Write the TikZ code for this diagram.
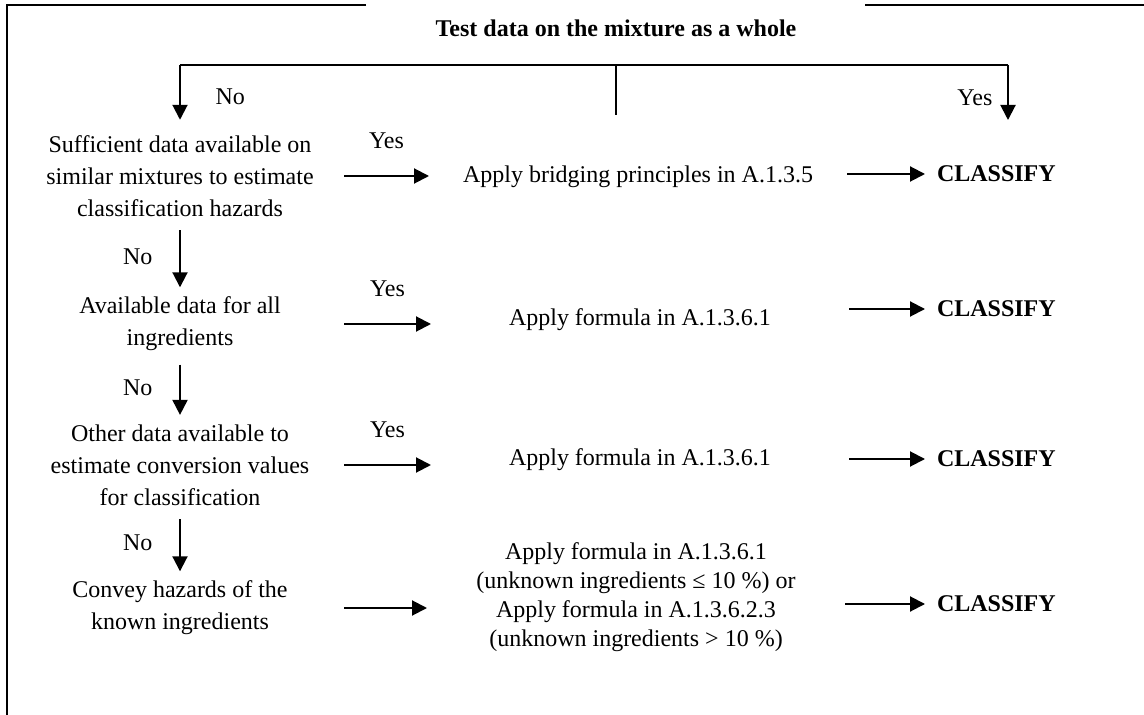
\documentclass[tikz,border=0pt]{standalone}
\usepackage{fontspec}
\setmainfont{Liberation Serif}
\usetikzlibrary{arrows.meta}
\usetikzlibrary{calc}

\begin{document}
\begin{tikzpicture}[x=0.5pt, y=-0.5pt, line width=1pt,
    ask/.style={align=flush center, text width=163pt, inner xsep=0pt, font=\fontsize{12}{16}\selectfont},
    act/.style={align=flush center, text width=208pt, inner xsep=0pt, font=\fontsize{12}{16}\selectfont},
    res/.style={anchor=west, inner xsep=5.5pt, font=\fontsize{12}{16}\selectfont\bfseries}]
    \tikzset{arr/.style={-{Triangle[length=7.5pt, width=7.5pt]}}}
    \tikzset{lbl/.style={font=\fontsize{12}{16}\selectfont}}
    \useasboundingbox (0,0) rectangle (1144,715);

    % frame
    \draw (366,5) -- (7,5) -- (7,715);
    \draw (865,5) -- (1144,5);
    \node[font=\fontsize{12}{16}\selectfont\bfseries] (title) at (616,28) {Test data on the mixture as a whole};

    % questions, actions, results
    \node[ask] (q1) at (180,176) {Sufficient data available on\\similar mixtures to estimate\\classification hazards};
    \node[ask] (q2) at (180,324) {Available data for all\\ingredients};
    \node[ask] (q3) at (180,465) {Other data available to\\estimate conversion values\\for classification};
    \node[ask] (q4) at (180,608) {Convey hazards of the\\known ingredients};

    \node[act] (a1) at (638,177) {Apply bridging principles in A.1.3.5};
    \node[act] (a2) at (640,320) {Apply formula in A.1.3.6.1};
    \node[act] (a3) at (640,460) {Apply formula in A.1.3.6.1};
    \node[act, font=\fontsize{12}{14.5}\selectfont] (a4) at (636,597) {Apply formula in A.1.3.6.1\\(unknown ingredients ≤ 10 \%) or\\Apply formula in A.1.3.6.2.3\\(unknown ingredients > 10 \%)};

    \node[res] (c1) at (925,174) {CLASSIFY};
    \node[res] (c2) at (925,309) {CLASSIFY};
    \node[res] (c3) at (925,459) {CLASSIFY};
    \node[res] (c4) at (925,604) {CLASSIFY};

    % branch from the top
    \coordinate (barM) at (616,65);
    \coordinate (barR) at (1008,65);
    \coordinate (stem) at (616,115);
    \coordinate (yesEnd) at (1008,120);
    \draw (q1.north |- barM) -- (barR);
    \draw (barM) -- (stem);
    \draw[arr, shorten >=4pt] (q1.north |- barM) -- (q1.north) node[lbl, midway, right=14pt] {No};
    \draw[arr] (barR) -- (yesEnd) node[lbl, pos=0.6, left=4pt] {Yes};

    \foreach \i in {1,...,4} {
        \draw[arr] (q\i.east) -- (q\i.east -| a\i.west);
        \draw[arr] (c\i.west -| a\i.east) -- (c\i.west);
    }
    \foreach \i/\j in {1/2,2/3,3/4} {
        \draw[arr, shorten <=3pt, shorten >=1pt] (q\i.south) -- (q\j.north) node[lbl, midway, left=10pt] {No};
        \path (q\i.east) -- (q\i.east -| a\i.west) node[lbl, midway, above=10pt] {Yes};
    }
\end{tikzpicture}
\end{document}
